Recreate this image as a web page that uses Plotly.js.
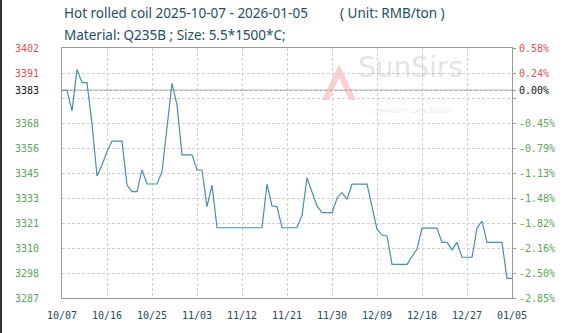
<!DOCTYPE html>
<html>
<head>
<meta charset="utf-8">
<script src="https://cdn.plot.ly/plotly-3.0.1.min.js"></script>
<style>
html,body{margin:0;padding:0;background:#fff;}
#chart{width:579px;height:333px;border-left:2px solid #333;}
</style>
</head>
<body>
<div id="chart"></div>
<script>
// ---- data ----
const dates = [
 '2025-10-07','2025-10-08','2025-10-09','2025-10-10','2025-10-11','2025-10-12','2025-10-13','2025-10-14','2025-10-15','2025-10-16',
 '2025-10-17','2025-10-18','2025-10-19','2025-10-20','2025-10-21','2025-10-22','2025-10-23','2025-10-24','2025-10-25','2025-10-26',
 '2025-10-27','2025-10-28','2025-10-29','2025-10-30','2025-10-31','2025-11-01','2025-11-02','2025-11-03','2025-11-04','2025-11-05',
 '2025-11-06','2025-11-07','2025-11-08','2025-11-09','2025-11-10','2025-11-11','2025-11-12','2025-11-13','2025-11-14','2025-11-15',
 '2025-11-16','2025-11-17','2025-11-18','2025-11-19','2025-11-20','2025-11-21','2025-11-22','2025-11-23','2025-11-24','2025-11-25',
 '2025-11-26','2025-11-27','2025-11-28','2025-11-29','2025-11-30','2025-12-01','2025-12-02','2025-12-03','2025-12-04','2025-12-05',
 '2025-12-06','2025-12-07','2025-12-08','2025-12-09','2025-12-10','2025-12-11','2025-12-12','2025-12-13','2025-12-14','2025-12-15',
 '2025-12-16','2025-12-17','2025-12-18','2025-12-19','2025-12-20','2025-12-21','2025-12-22','2025-12-23','2025-12-24','2025-12-25',
 '2025-12-26','2025-12-27','2025-12-28','2025-12-29','2025-12-30','2025-12-31','2026-01-01','2026-01-02','2026-01-03','2026-01-04',
 '2026-01-05'
];
const prices = [
 3383, 3383, 3373.4, 3392.7, 3386.5, 3386.5, 3367.5, 3343.2, 3348.3, 3354.5,
 3359.4, 3359.4, 3359.4, 3339, 3336, 3336, 3346, 3339.5, 3339.5, 3339.5,
 3345.2, 3366, 3386.2, 3376.2, 3353, 3353, 3353, 3346, 3346, 3329,
 3339, 3319.2, 3319.2, 3319.2, 3319.2, 3319.2, 3319.2, 3319.2, 3319.2, 3319.2,
 3319.2, 3339.4, 3329.3, 3329, 3319.2, 3319.2, 3319.2, 3319.2, 3325, 3342.4,
 3335.8, 3329.3, 3326.2, 3326.2, 3326.2, 3332.9, 3335.5, 3332.4, 3339.4, 3339.4,
 3339.4, 3339.4, 3329, 3318.5, 3315.8, 3315.4, 3302.2, 3302.2, 3302.2, 3302.2,
 3305.8, 3309.2, 3319, 3319, 3319, 3319, 3312.4, 3312.4, 3308.9, 3312.4,
 3305.5, 3305.5, 3305.5, 3319, 3322.3, 3312.4, 3312.4, 3312.4, 3312.4, 3295.7,
 3295.7
];
const baseValue = 3383;
const yRange = [3286.6, 3402.6];
const xTickVals = ['2025-10-07','2025-10-16','2025-10-25','2025-11-03','2025-11-12','2025-11-21','2025-11-30','2025-12-09','2025-12-18','2025-12-27','2026-01-05'];
const xTickText = ['10/07','10/16','10/25','11/03','11/12','11/21','11/30','12/09','12/18','12/27','01/05'];
const yTickVals = [3286.6, 3298.2, 3309.8, 3321.4, 3333.0, 3344.6, 3356.2, 3367.8, 3379.4, 3383, 3391.0, 3402.6];
const yTickLeft = ['3287','3298','3310','3321','3333','3345','3356','3368','','3383','3391','3402'];
const yTickRight = ['-2.85%','-2.50%','-2.16%','-1.82%','-1.48%','-1.13%','-0.79%','-0.45%','','0.00%','0.24%','0.58%'];
const titleLine1a = 'Hot rolled coil 2025-10-07 - 2026-01-05';
const titleLine1b = '( Unit: RMB/ton )';
const titleLine2 = 'Material: Q235B ; Size: 5.5*1500*C;';

const RED = '#d9534f', GREEN = '#5aa55a', BLACK = '#111';
function colorFor(v){ return v > baseValue ? RED : (v < baseValue ? GREEN : BLACK); }
const leftText = yTickLeft.map((t,i)=> t ? `<span style="color:${colorFor(yTickVals[i])}">${t}</span>` : '');
const rightText = yTickRight.map((t,i)=> t ? `<span style="color:${colorFor(yTickVals[i])}">${t}</span>` : '');

const mono = 'DejaVu Sans Mono, monospace';
const traces = [
 {x: dates, y: prices, type:'scatter', mode:'lines', line:{color:'#4a8fa3', width:1.2}, hoverinfo:'skip', showlegend:false},
 {x: [dates[0]], y: [baseValue], yaxis:'y2', type:'scatter', mode:'markers', marker:{opacity:0}, hoverinfo:'skip', showlegend:false}
];

const W = 579, H = 333, L = 60, R = 69, T = 48, B = 35;
const pw = W - L - R, ph = H - T - B;
// helper converting picture pixels (581-wide reference, 2px border) to paper coords
const px = x => (x - 2 - L) / pw, py = y => (H - B - y) / ph;

const titleFont = {family:'Noto Sans, Open Sans, sans-serif', size: 13.5, color:'#23505e'};
const layout = {
 width: W, height: H,
 margin: {l: L, r: R, t: T, b: B, pad: 0},
 paper_bgcolor:'#fff', plot_bgcolor:'#fff',
 xaxis: {
  type:'date', range:[dates[0], dates[dates.length-1]],
  tickvals: xTickVals, ticktext: xTickText,
  tickfont:{family:mono, size:10, color:'#1e4d5c'},
  showgrid:true, gridcolor:'#cfcfcf', griddash:'3px,2px', gridwidth:1,
  showline:true, linecolor:'#999', linewidth:1, mirror:true,
  ticks:'', ticklabelstandoff: 8, zeroline:false, fixedrange:true
 },
 yaxis: {
  range: yRange, tickvals: yTickVals, ticktext: leftText,
  tickfont:{family:mono, size:10},
  showgrid:true, gridcolor:'#cfcfcf', griddash:'3px,2px', gridwidth:1,
  showline:true, linecolor:'#999', linewidth:1, mirror:true,
  ticks:'', ticklabelstandoff: 20, zeroline:false, fixedrange:true
 },
 yaxis2: {
  overlaying:'y', side:'right', range: yRange, tickvals: yTickVals, ticktext: rightText,
  tickfont:{family:mono, size:10},
  showgrid:false, showline:false, ticks:'outside', ticklen:3, tickcolor:'#999',
  ticklabelstandoff: 1, zeroline:false, fixedrange:true
 },
 shapes: [
  {type:'line', xref:'paper', x0:0, x1:1, yref:'y', y0:baseValue, y1:baseValue, line:{color:'#8a8a8a', width:1}, layer:'below'},
  {type:'path', xref:'paper', yref:'paper',
   path:`M ${px(322)} ${py(100)} L ${px(339)} ${py(64)} L ${px(356)} ${py(100)} L ${px(349)} ${py(100)} L ${px(339)} ${py(78)} L ${px(329)} ${py(100)} Z`,
   fillcolor:'rgba(240,120,120,0.35)', line:{width:0}, layer:'below'}
 ],
 annotations: [
  {xref:'paper', yref:'paper', x: px(62), xanchor:'left', y: py(13), yanchor:'middle', text: titleLine1a, showarrow:false, font: titleFont},
  {xref:'paper', yref:'paper', x: px(338), xanchor:'left', y: py(13), yanchor:'middle', text: titleLine1b, showarrow:false, font: titleFont},
  {xref:'paper', yref:'paper', x: px(62), xanchor:'left', y: py(35), yanchor:'middle', text: titleLine2, showarrow:false, font: titleFont},
  {xref:'paper', yref:'paper', x: px(410), xanchor:'center', y: py(82), yanchor:'middle', text:'SunSirs<br><span style="font-size:6px">COMMODITY DATA GROUP</span>', showarrow:false,
   font:{family:'Verdana, DejaVu Sans, sans-serif', size:28, color:'rgba(170,170,170,0.33)'}}
 ]
};

Plotly.newPlot('chart', traces, layout, {displayModeBar:false, staticPlot:true});
</script>
</body>
</html>
